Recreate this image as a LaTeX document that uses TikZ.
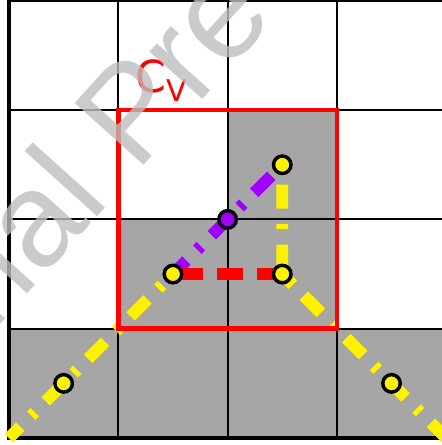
\documentclass[tikz,border=0pt]{standalone}
\usepackage{fontspec}
\setmainfont{DejaVu Sans}
\newfontfamily\wmfont{Liberation Sans}
\definecolor{cellgray}{RGB}{166,166,166}
\definecolor{violetline}{RGB}{160,0,255}
\definecolor{wmgray}{RGB}{190,190,190}
\begin{document}
\begin{tikzpicture}[x=1cm,y=1cm,
  gridline/.style={line width=0.52pt, black},
  frameline/.style={line width=0.8pt, black},
  region/.style={draw=red, line width=1.17pt},
  dashdot/.style={line width=3.12pt, dash pattern=on 6.25pt off 4.03pt on 1.3pt off 4.03pt},
  reddash/.style={line width=3.12pt, red, dash pattern=on 6.77pt off 3.64pt},
  pt/.style={circle, draw=black, fill=yellow, line width=0.9pt, minimum size=0.16cm, inner sep=0pt},
]
\useasboundingbox (-0.0823,-0.064) rectangle (3.9616,4.0073);
\clip (-0.0823,-0.064) rectangle (3.9616,4.0073);
% shaded cells
\fill[cellgray] (0,0) rectangle (4,1) (1,1) rectangle (3,2) (2,2) rectangle (3,3);
% grid
\draw[gridline] (0,0) grid (4,4);
\draw[frameline] (0,0) rectangle (4,4);
% points
\coordinate (O) at (0,0);
\coordinate (E) at (4,0);
\coordinate (A) at (0.5,0.5);
\coordinate (B) at (1.5,1.5);
\coordinate (C) at (2.5,1.5);
\coordinate (D) at (2.5,2.5);
\coordinate (M) at (2,2);
\coordinate (F) at (3.5,0.5);
% connectors
\draw[dashdot, yellow, dash phase=2.08pt] (O) -- (B);
\draw[dashdot, yellow, dash phase=10.41pt] (D) -- (C) -- (E);
\draw[dashdot, violetline, dash phase=1.3pt] (B) -- (D);
\draw[reddash, dash phase=9.37pt] (B) -- (C);
% red region
\draw[region] (1,1) rectangle (3,3);
% markers
\node[pt] (nA) at (A) {};
\node[pt] (nB) at (B) {};
\node[pt] (nC) at (C) {};
\node[pt] (nD) at (D) {};
\node[pt] (nF) at (F) {};
\node[pt, fill=violetline] (nM) at (M) {};
% label
\node[red, anchor=base west, inner sep=0pt, font=\fontsize{11.5}{12}\selectfont] (cv) at (1.153,3.16) {C\raisebox{-0.085cm}{\fontsize{7.8}{8}\selectfont V}};
% watermark
\node[wmgray, opacity=0.8, rotate=48, anchor=base west, inner sep=0pt, font=\wmfont\fontsize{35}{35}\selectfont] (wm) at (-0.64,0.42) {Trial Preview};
\end{tikzpicture}
\end{document}
